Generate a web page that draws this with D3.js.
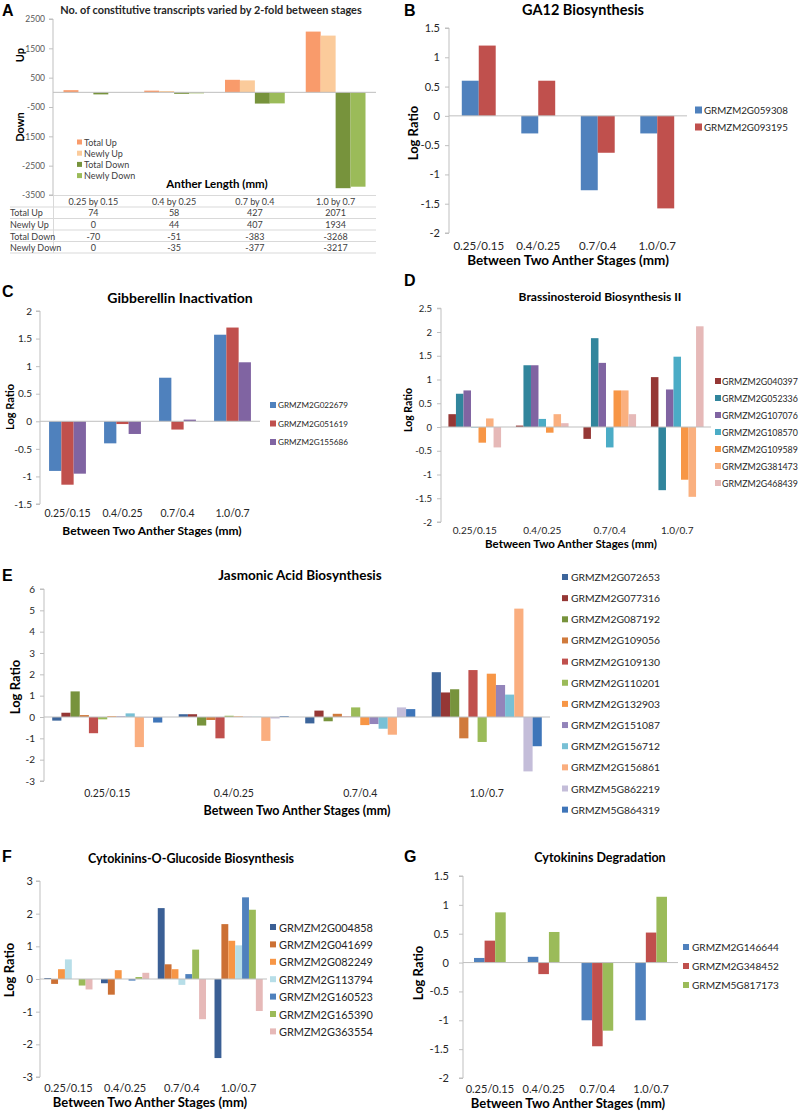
<!DOCTYPE html>
<html><head><meta charset="utf-8">
<script src="https://cdn.jsdelivr.net/npm/d3@7"></script>
<style>body{margin:0;background:#fff}svg{display:block}</style>
</head><body>
<svg id="c" width="800" height="1111"></svg>
<script>
// ---------- DATA ----------
const aCats = ["0.25 by 0.15","0.4 by 0.25","0.7 by 0.4","1.0 by 0.7"];
const aSeries = ["Total Up","Newly Up","Total Down","Newly Down"];
const aTotalUp = [74,58,427,2071];
const aNewlyUp = [0,44,407,1934];
const aTotalDown = [-70,-51,-383,-3268];
const aNewlyDown = [0,-35,-377,-3217];
const aTicks = [2500,1500,500,-500,-1500,-2500,-3500];

const stageCats = ["0.25/0.15","0.4/0.25","0.7/0.4","1.0/0.7"];

const bGenes = ["GRMZM2G059308","GRMZM2G093195"];
const b059308 = [0.6,-0.3,-1.27,-0.3];
const b093195 = [1.2,0.6,-0.63,-1.58];
const bTicks = [1.5,1,0.5,0,-0.5,-1,-1.5,-2];

const cGenes = ["GRMZM2G022679","GRMZM2G051619","GRMZM2G155686"];
const c022679 = [-0.9,-0.4,0.79,1.57];
const c051619 = [-1.15,-0.05,-0.15,1.7];
const c155686 = [-0.95,-0.23,0.03,1.07];
const cTicks = [2,1.5,1,0.5,0,-0.5,-1,-1.5];

const dGenes = ["GRMZM2G040397","GRMZM2G052336","GRMZM2G107076","GRMZM2G108570","GRMZM2G109589","GRMZM2G381473","GRMZM2G468439"];
const d040397 = [0.27,0.03,-0.25,1.05];
const d052336 = [0.7,1.3,1.87,-1.33];
const d107076 = [0.77,1.3,1.35,0.79];
const d108570 = [-0.01,0.17,-0.43,1.48];
const d109589 = [-0.33,-0.12,0.77,-1.11];
const d381473 = [0.18,0.27,0.77,-1.47];
const d468439 = [-0.43,0.08,0.27,2.12];
const dTicks = [2.5,2,1.5,1,0.5,0,-0.5,-1,-1.5,-2];

const eGenes = ["GRMZM2G072653","GRMZM2G077316","GRMZM2G087192","GRMZM2G109056","GRMZM2G109130","GRMZM2G110201","GRMZM2G132903","GRMZM2G151087","GRMZM2G156712","GRMZM2G156861","GRMZM5G862219","GRMZM5G864319"];
const e072653 = [-0.17,0.13,-0.3,2.1];
const e077316 = [0.2,0.13,0.3,1.15];
const e087192 = [1.2,-0.4,-0.2,1.3];
const e109056 = [0.09,-0.14,0.15,-1.0];
const e109130 = [-0.76,-1.0,0.02,2.2];
const e110201 = [-0.11,0.06,0.45,-1.17];
const e132903 = [0.04,0.03,-0.38,2.03];
const e151087 = [0.03,0.01,-0.33,1.5];
const e156712 = [0.17,0.01,-0.55,1.05];
const e156861 = [-1.41,-1.12,-0.83,5.08];
const e862219 = [-0.03,-0.07,0.45,-2.55];
const e864319 = [-0.26,0.04,0.37,-1.37];
const eTicks = [6,5,4,3,2,1,0,-1,-2,-3];

const fGenes = ["GRMZM2G004858","GRMZM2G041699","GRMZM2G082249","GRMZM2G113794","GRMZM2G160523","GRMZM2G165390","GRMZM2G363554"];
const f004858 = [0.03,-0.13,2.17,-2.42];
const f041699 = [-0.15,-0.48,0.45,1.68];
const f082249 = [0.3,0.27,0.3,1.17];
const f113794 = [0.6,0,-0.18,1.03];
const f160523 = [0,-0.05,0.15,2.5];
const f165390 = [-0.2,0.06,0.9,2.12];
const f363554 = [-0.32,0.19,-1.23,-0.98];
const fTicks = [3,2,1,0,-1,-2,-3];

const gGenes = ["GRMZM2G146644","GRMZM2G348452","GRMZM5G817173"];
const g146644 = [0.08,0.1,-1.0,-1.0];
const g348452 = [0.38,-0.2,-1.45,0.52];
const g817173 = [0.87,0.53,-1.18,1.14];
const gTicks = [1.5,1,0.5,0,-0.5,-1,-1.5,-2];

// ---------- DRAW ----------
const svg = d3.select("#c");
const FONT = "Lato, 'Open Sans', sans-serif";
const AX = "#BFBFBF";
const TXT = "#262626";

function txt(x,y,s,size,opt={}){
  const t = svg.append("text").attr("x",x).attr("y",y).text(s)
    .attr("font-family",opt.family||FONT).attr("font-size",size)
    .attr("font-weight",opt.bold?"bold":"normal")
    .attr("fill",opt.fill||TXT)
    .attr("text-anchor",opt.anchor||"middle")
    .attr("dominant-baseline","central");
  if(opt.rotate) t.attr("transform",`rotate(-90,${x},${y})`);
  if(opt.w){ // fit to target width by scaling the font size
    const nat = t.node().getComputedTextLength();
    if(nat>opt.w) t.attr("font-size", size*opt.w/nat);
  }
  return t;
}

function panel(o){
  const g = svg.append("g");
  const x = d3.scaleBand().domain(o.cats).range([o.x0,o.x1]).paddingInner(o.pad).paddingOuter(o.pad/2);
  const y = d3.scaleLinear().domain([o.ticks[o.ticks.length-1],o.ticks[0]]).range([o.yb,o.yt]);
  const n = o.values.length, bw = x.bandwidth()/n;
  o.values.forEach((vals,i)=>{
    g.append("g").selectAll("rect").data(vals).join("rect")
      .attr("x",(d,j)=>x(o.cats[j])+i*bw)
      .attr("y",d=>y(Math.max(0,d)))
      .attr("width",bw)
      .attr("height",d=>Math.abs(y(d)-y(0)))
      .attr("fill",o.colors[i]);
  });
  const ts = 4;
  const ax = g.append("g").attr("transform",`translate(${o.x0},0)`)
    .call(d3.axisLeft(y).tickValues(o.ticks).tickSize(ts).tickPadding(o.tpad||5).tickFormat(d=>String(d)));
  ax.select(".domain").attr("stroke",AX).attr("d",`M${-ts},${o.yt}H0V${o.yb}H${-ts}`);
  ax.selectAll(".tick line").attr("stroke",AX);
  ax.selectAll(".tick text").attr("font-family",FONT).attr("font-size",o.tfs).attr("fill",o.tfill||TXT);
  g.append("line").attr("x1",o.x0).attr("x2",o.x1).attr("y1",y(0)).attr("y2",y(0)).attr("stroke",AX);
  if(o.catY!=null){
    o.cats.forEach(c=>txt(x(c)+x.bandwidth()/2,o.catY,c,o.cfs));
  }
  if(o.legend){
    const L=o.legend;
    o.names.forEach((nm,i)=>{
      const yy=L.y+i*L.dy;
      svg.append("rect").attr("x",L.x).attr("y",yy-L.s/2).attr("width",L.s).attr("height",L.s).attr("fill",o.colors[i]);
      txt(L.tx,yy,nm,L.fs,{anchor:"start",fill:L.fill||TXT,w:L.w});
    });
  }
  return {x,y};
}

// Panel letters
const LET = {family:"'Liberation Sans', Arial, sans-serif", bold:true, anchor:"start", fill:"#000"};
txt(2,10,"A",16,LET);
txt(404,10,"B",16,LET);
txt(2,291,"C",16,LET);
txt(404,280,"D",16,LET);
txt(2,575,"E",16,LET);
txt(2,856,"F",16,LET);
txt(404,856,"G",16,LET);

// ---- Panel A ----
txt(211,9,"No. of constitutive transcripts varied by 2-fold between stages",11.5,{bold:true,w:302});
const pA = panel({cats:aCats,x0:53,x1:376,yt:19,yb:195,pad:0.26,ticks:aTicks,tfs:8.5,tpad:4,tfill:"#595959",
  values:[aTotalUp,aNewlyUp,aTotalDown,aNewlyDown],colors:["#F99B6B","#FBCB9B","#77933C","#9BBB59"],
  names:aSeries,legend:{x:77,tx:84,y:142,dy:11.2,s:5,fs:9,fill:"#404040"}});
txt(19,55,"Up",11,{bold:true,rotate:true,fill:"#000"});
txt(19,127,"Down",11,{bold:true,rotate:true,fill:"#000"});
txt(217,183,"Anther Length (mm)",11.5,{bold:true,fill:"#000"});
// table
const tl = (x1,y1,x2,y2)=>svg.append("line").attr("x1",x1).attr("y1",y1).attr("x2",x2).attr("y2",y2).attr("stroke","#D9D9D9");
tl(53,195.5,376,195.5);
[207,218.5,230,241.5,253].forEach(yy=>tl(10,yy,376,yy));
tl(53.5,195.5,53.5,253);
aCats.forEach(c=>txt(pA.x(c)+pA.x.bandwidth()/2,201.5,c,9,{fill:"#404040"}));
const aRows=[aTotalUp,aNewlyUp,aTotalDown,aNewlyDown];
aRows.forEach((r,i)=>{
  const yy=212.8+i*11.7;
  txt(10,yy,aSeries[i],9,{anchor:"start",fill:"#404040"});
  r.forEach((v,j)=>txt(pA.x(aCats[j])+pA.x.bandwidth()/2,yy,String(v),9,{fill:"#404040"}));
});

// ---- Panel B ----
txt(583,9,"GA12 Biosynthesis",14.5,{bold:true,fill:"#000"});
panel({cats:stageCats,x0:449,x1:687,yt:28,yb:233,pad:0.43,ticks:bTicks,tfs:11,tpad:5,catY:245,cfs:11.5,
  values:[b059308,b093195],colors:["#4F81BD","#C0504D"],names:bGenes,
  legend:{x:695,tx:704,y:110,dy:17,s:7,fs:11,w:84}});
txt(568,260,"Between Two Anther Stages (mm)",13.5,{bold:true,fill:"#000"});
txt(413,133,"Log Ratio",13,{bold:true,rotate:true,fill:"#000"});

// ---- Panel C ----
txt(180,297,"Gibberellin Inactivation",14,{bold:true,fill:"#000"});
panel({cats:stageCats,x0:40,x1:260,yt:311,yb:504,pad:0.33,ticks:cTicks,tfs:10,tpad:4,catY:513,cfs:10.5,
  values:[c022679,c051619,c155686],colors:["#4F81BD","#C0504D","#8064A2"],names:cGenes,
  legend:{x:270,tx:278,y:405,dy:18.5,s:6,fs:10,w:70}});
txt(152,530,"Between Two Anther Stages (mm)",12,{bold:true,fill:"#000"});
txt(9,407,"Log Ratio",11,{bold:true,rotate:true,fill:"#000"});

// ---- Panel D ----
txt(600,296,"Brassinosteroid Biosynthesis II",12,{bold:true,fill:"#000"});
panel({cats:stageCats,x0:441,x1:711,yt:308.25,yb:522,pad:0.22,ticks:dTicks,tfs:9.5,tpad:5,catY:530,cfs:10,
  values:[d040397,d052336,d107076,d108570,d109589,d381473,d468439],
  colors:["#953735","#31859C","#8064A2","#4BACC6","#F79646","#FAB07F","#E6B9B8"],names:dGenes,
  legend:{x:715,tx:722,y:381,dy:17,s:6,fs:10.5,w:76}});
txt(571,543,"Between Two Anther Stages (mm)",11.5,{bold:true,fill:"#000"});
txt(408,410,"Log Ratio",10.5,{bold:true,rotate:true,fill:"#000"});

// ---- Panel E ----
txt(300,575,"Jasmonic Acid Biosynthesis",13.5,{bold:true,fill:"#000"});
panel({cats:stageCats,x0:44,x1:550,yt:589,yb:781,pad:0.13,ticks:eTicks,tfs:10,tpad:5,catY:793,cfs:10.5,
  values:[e072653,e077316,e087192,e109056,e109130,e110201,e132903,e151087,e156712,e156861,e862219,e864319],
  colors:["#3C659B","#953735","#77933C","#D07A3C","#C0504D","#9BBB59","#F79646","#9384BA","#78C0D5","#FAAE7F","#C4BDD9","#3E75B9"],
  names:eGenes,legend:{x:562,tx:571,y:577,dy:21.15,s:6,fs:11,w:89}});
txt(297,810,"Between Two Anther Stages (mm)",12.5,{bold:true,fill:"#000"});
txt(15,687,"Log Ratio",13,{bold:true,rotate:true,fill:"#000"});

// ---- Panel F ----
txt(191,858,"Cytokinins-O-Glucoside Biosynthesis",12.5,{bold:true,fill:"#000"});
panel({cats:stageCats,x0:40,x1:267,yt:881,yb:1077,pad:0.15,ticks:fTicks,tfs:11,tpad:3,catY:1087,cfs:11,
  values:[f004858,f041699,f082249,f113794,f160523,f165390,f363554],
  colors:["#3A5F95","#CC7034","#F79646","#B7DEE8","#4F81BD","#9BBB59","#E6B9B8"],names:fGenes,
  legend:{x:270,tx:279,y:927,dy:17.4,s:6,fs:11.5,w:94}});
txt(150,1102,"Between Two Anther Stages (mm)",13,{bold:true,fill:"#000"});
txt(9,970,"Log Ratio",13,{bold:true,rotate:true,fill:"#000"});

// ---- Panel G ----
txt(600,857,"Cytokinins Degradation",12.5,{bold:true,fill:"#000"});
panel({cats:stageCats,x0:463,x1:678,yt:876,yb:1078,pad:0.41,ticks:gTicks,tfs:11,tpad:10,catY:1088,cfs:11,
  values:[g146644,g348452,g817173],colors:["#4F81BD","#C0504D","#9BBB59"],names:gGenes,
  legend:{x:683,tx:692,y:947,dy:19,s:6,fs:11,w:87}});
txt(568,1103,"Between Two Anther Stages (mm)",13,{bold:true,fill:"#000"});
txt(418,973,"Log Ratio",13,{bold:true,rotate:true,fill:"#000"});
</script>
</body></html>
